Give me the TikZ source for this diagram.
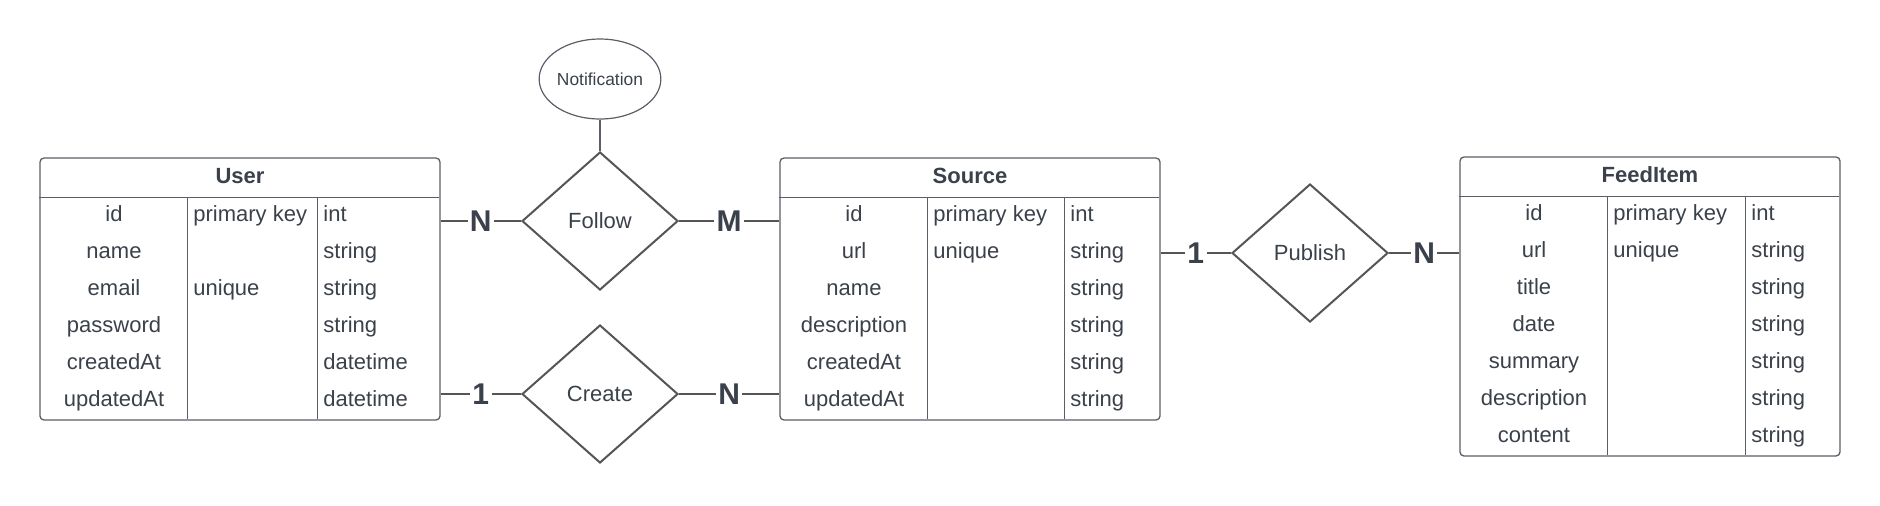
\documentclass[tikz,border=0pt]{standalone}
\usepackage{fontspec}
\setmainfont{Liberation Sans}
\usetikzlibrary{shapes.geometric}
\definecolor{ink}{HTML}{3A414A}
\definecolor{rim}{HTML}{5A5E66}
\definecolor{wire}{HTML}{555555}
\tikzstyle{entity} = [rectangle, draw=rim, line width=0.65pt, rounded corners=2pt, inner sep=0pt]
\tikzstyle{tabtitle} = [font=\fontsize{11}{13}\selectfont\bfseries, text=ink]
\tikzstyle{field} = [font=\fontsize{11}{13}\selectfont, text=ink, inner sep=0pt, text height=8pt, text depth=2.5pt]
\tikzstyle{rule} = [draw=rim, line width=0.6pt]
\tikzstyle{relation} = [diamond, draw=wire, line width=1pt, minimum width=78pt, minimum height=69pt, inner sep=0pt, font=\fontsize{11}{13}\selectfont, text=ink]
\tikzstyle{attrib} = [ellipse, draw=rim, line width=0.6pt, minimum width=60.5pt, minimum height=40pt, inner sep=0pt, font=\fontsize{8.7}{10}\selectfont, text=ink]
\tikzstyle{connector} = [draw=wire, line width=1.1pt]
\tikzstyle{card} = [fill=white, inner sep=1.2pt, font=\fontsize{15}{17}\selectfont\bfseries, text=ink]

\begin{document}
\begin{tikzpicture}[x=0.5pt, y=-0.5pt]
        \useasboundingbox (0,0) rectangle (1880,505);

        % User table
        \node (user) [entity, minimum width=200pt, minimum height=131pt] at (240,289) {};
        \node (userTitle) [tabtitle] at (240,176) {User};
        \path [rule] (user.north west) ++(0,40) -- ++(400,0);
        \path [rule] (user.north west) ++(148,40) -- ++(0,222);
        \path [rule] (user.north west) ++(278,40) -- ++(0,222);
        \foreach \f/\k/\t [count=\i] in {id/primary key/int, name//string, email/unique/string, password//string, createdAt//datetime, updatedAt//datetime} {
            \node (user-f\i) [field] at (114,179+37*\i) {\f};
            \node (user-k\i) [field, anchor=west] at (193,179+37*\i) {\k};
            \node (user-t\i) [field, anchor=west] at (323,179+37*\i) {\t};
        }

        % Source table
        \node (source) [entity, minimum width=190pt, minimum height=131pt] at (970,289) {};
        \node (sourceTitle) [tabtitle] at (970,176) {Source};
        \path [rule] (source.north west) ++(0,40) -- ++(380,0);
        \path [rule] (source.north west) ++(148,40) -- ++(0,222);
        \path [rule] (source.north west) ++(285,40) -- ++(0,222);
        \foreach \f/\k/\t [count=\i] in {id/primary key/int, url/unique/string, name//string, description//string, createdAt//string, updatedAt//string} {
            \node (source-f\i) [field] at (854,179+37*\i) {\f};
            \node (source-k\i) [field, anchor=west] at (933,179+37*\i) {\k};
            \node (source-t\i) [field, anchor=west] at (1070,179+37*\i) {\t};
        }

        % FeedItem table
        \node (feeditem) [entity, minimum width=190pt, minimum height=149.5pt] at (1650,306.5) {};
        \node (feeditemTitle) [tabtitle] at (1650,175) {FeedItem};
        \path [rule] (feeditem.north west) ++(0,40) -- ++(380,0);
        \path [rule] (feeditem.north west) ++(148,40) -- ++(0,259);
        \path [rule] (feeditem.north west) ++(286,40) -- ++(0,259);
        \foreach \f/\k/\t [count=\i] in {id/primary key/int, url/unique/string, title//string, date//string, summary//string, description//string, content//string} {
            \node (feeditem-f\i) [field] at (1534,178+37*\i) {\f};
            \node (feeditem-k\i) [field, anchor=west] at (1613,178+37*\i) {\k};
            \node (feeditem-t\i) [field, anchor=west] at (1751,178+37*\i) {\t};
        }

        % relations
        \node (follow) [relation] at (600,221) {Follow};
        \node (create) [relation] at (600,394) {Create};
        \node (publish) [relation] at (1310,253) {Publish};
        \node (notification) [attrib] at (600,79) {Notification};

        \path [rule] (notification) -- (follow);
        \path [connector] (user.east |- follow) -- node [card] {N} (follow.west);
        \path [connector] (follow.east) -- node [card] {M} (source.west |- follow);
        \path [connector] (user.east |- create) -- node [card] {1} (create.west);
        \path [connector] (create.east) -- node [card] {N} (source.west |- create);
        \path [connector] (source.east |- publish) -- node [card] {1} (publish.west);
        \path [connector] (publish.east) -- node [card] {N} (feeditem.west |- publish);
    \end{tikzpicture}
\end{document}
